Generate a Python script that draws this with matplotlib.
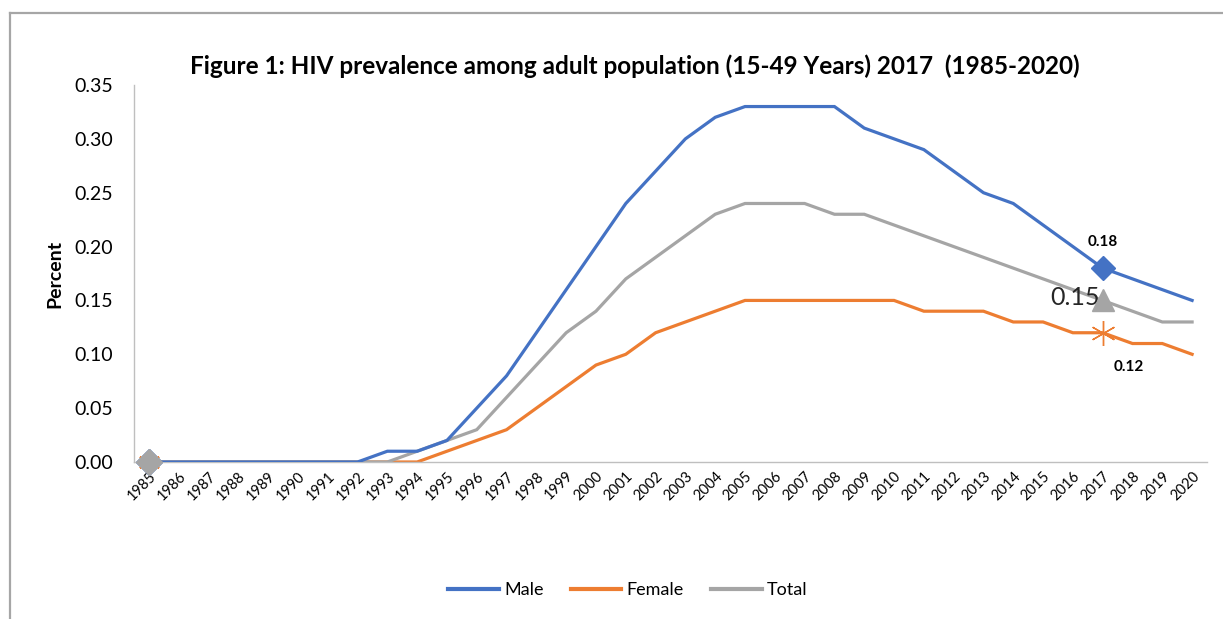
import matplotlib
matplotlib.use("Agg")
import matplotlib.pyplot as plt
from matplotlib.lines import Line2D

plt.rcParams['font.family'] = ['Lato', 'DejaVu Sans']

years = list(range(1985, 2021))
male = [0, 0, 0, 0, 0, 0, 0, 0, 0.01, 0.01, 0.02, 0.05, 0.08, 0.12, 0.16, 0.20,
        0.24, 0.27, 0.30, 0.32, 0.33, 0.33, 0.33, 0.33, 0.31, 0.30, 0.29, 0.27,
        0.25, 0.24, 0.22, 0.20, 0.18, 0.17, 0.16, 0.15]
female = [0, 0, 0, 0, 0, 0, 0, 0, 0, 0, 0.01, 0.02, 0.03, 0.05, 0.07, 0.09,
          0.10, 0.12, 0.13, 0.14, 0.15, 0.15, 0.15, 0.15, 0.15, 0.15, 0.14, 0.14,
          0.14, 0.13, 0.13, 0.12, 0.12, 0.11, 0.11, 0.10]
total = [0, 0, 0, 0, 0, 0, 0, 0, 0, 0.01, 0.02, 0.03, 0.06, 0.09, 0.12, 0.14,
         0.17, 0.19, 0.21, 0.23, 0.24, 0.24, 0.24, 0.23, 0.23, 0.22, 0.21, 0.20,
         0.19, 0.18, 0.17, 0.16, 0.15, 0.14, 0.13, 0.13]
series_names = ["Male", "Female", "Total"]
y_ticks = [0.00, 0.05, 0.10, 0.15, 0.20, 0.25, 0.30, 0.35]
highlight_year = 2017

BLUE = "#4472C4"
ORANGE = "#ED7D31"
GRAY = "#A5A5A5"

fig = plt.figure(figsize=(12.23, 6.19), dpi=100)
ax = fig.add_axes([134 / 1223, 1 - 462 / 619, (1207 - 134) / 1223, (462 - 85) / 619])

lw = 2.3
ax.plot(years, male, color=BLUE, lw=lw, label=series_names[0], solid_joinstyle="miter", zorder=3)
ax.plot(years, female, color=ORANGE, lw=lw, label=series_names[1], solid_joinstyle="miter", zorder=2)
ax.plot(years, total, color=GRAY, lw=lw, label=series_names[2], solid_joinstyle="miter", zorder=2.5)

# markers at the first year
i0 = 0
ax.plot(years[i0], male[i0], marker="D", ms=13, color=BLUE, zorder=4, clip_on=False)
ax.plot(years[i0], female[i0], marker=(6, 2, 0), ms=16, mew=1.2, color=ORANGE, zorder=4.1, clip_on=False)
ax.plot(years[i0], total[i0], marker="D", ms=13, color=GRAY, zorder=4.2, clip_on=False)

# highlighted year
k = years.index(highlight_year)
ax.plot(years[k], male[k], marker="D", ms=12, color=BLUE, zorder=5)
ax.plot(years[k], total[k], marker="^", ms=16, color=GRAY, zorder=5)
ax.plot(years[k], female[k], marker=(6, 2, 0), ms=18, mew=1.0, color=ORANGE, zorder=5)

ax.annotate(f"{male[k]:.2f}", (years[k], male[k]), xytext=(0, 19), textcoords="offset points",
            ha="center", va="center", fontsize=11, fontweight="bold", color="#000000")
ax.annotate(f"{total[k]:.2f}", (years[k], total[k]), xytext=(-20, 2), textcoords="offset points",
            ha="center", va="center", fontsize=18, color="#262626")
ax.annotate(f"{female[k]:.2f}", (years[k], female[k]), xytext=(19, -25), textcoords="offset points",
            ha="center", va="center", fontsize=11, fontweight="bold", color="#000000")

ax.set_xlim(1984.5, 2020.5)
ax.set_ylim(0, 0.35)
ax.set_yticks(y_ticks)
ax.set_yticklabels([f"{v:.2f}" for v in y_ticks], fontsize=14)
ax.set_xticks(years)
ax.set_xticklabels([str(y) for y in years], rotation=45, ha="right", rotation_mode="anchor", fontsize=10.5)
ax.tick_params(axis="y", length=0, pad=15)
ax.tick_params(axis="x", length=0, pad=5)

for s in ["top", "right"]:
    ax.spines[s].set_visible(False)
for s in ["left", "bottom"]:
    ax.spines[s].set_color("#BFBFBF")
    ax.spines[s].set_linewidth(1.0)

ax.set_ylabel("Percent", fontsize=14, fontweight="bold")
ax.yaxis.set_label_coords(-0.066, 0.5)

fig.text(635 / 1223, 1 - 66 / 619,
         "Figure 1: HIV prevalence among adult population (15-49 Years) 2017  (1985-2020)",
         ha="center", va="center", fontsize=17.5, fontweight="bold", color="#000000")

handles = [Line2D([0], [0], color=c, lw=3) for c in (BLUE, ORANGE, GRAY)]
fig.legend(handles, series_names, loc="center", bbox_to_anchor=(628 / 1223, 1 - 590 / 619),
           ncol=3, frameon=False, fontsize=13, handlelength=2.8, columnspacing=1.5,
           handletextpad=0.3)

# outer chart frame
fig.add_artist(Line2D([10 / 1223, 1.0], [1 - 13 / 619, 1 - 13 / 619],
                      transform=fig.transFigure, color="#A6A6A6", lw=1.6))
fig.add_artist(Line2D([10 / 1223, 10 / 1223], [1 - 13 / 619, 0.0],
                      transform=fig.transFigure, color="#A6A6A6", lw=1.6))

fig.savefig("out.png", dpi=100, facecolor="white")
